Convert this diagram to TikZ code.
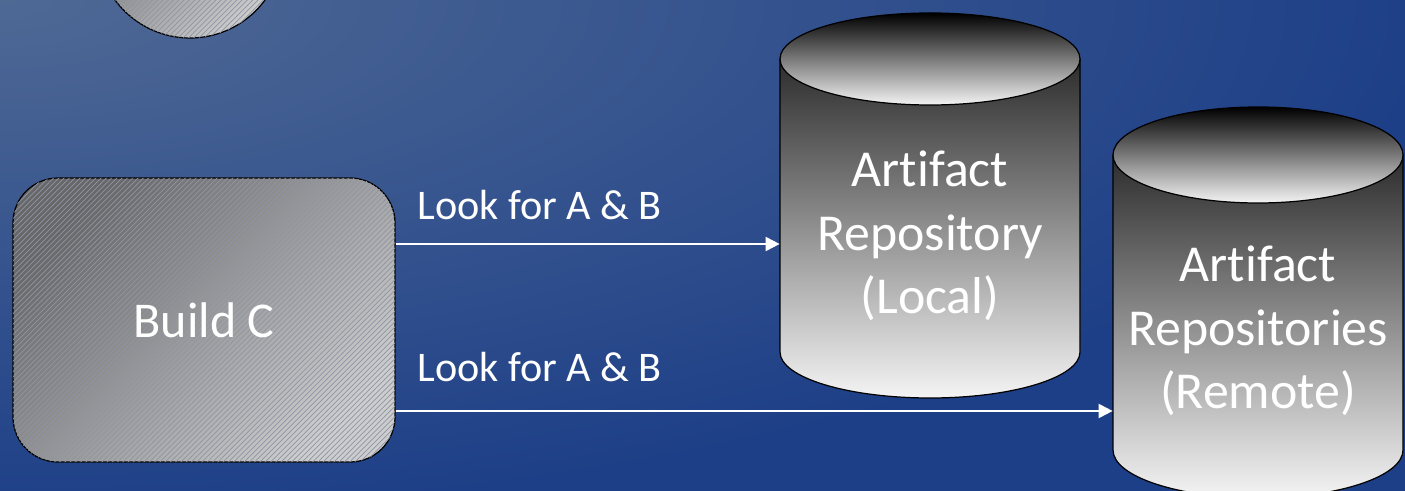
\documentclass[tikz,border=0pt]{standalone}
\usepackage{fontspec}
\setmainfont{Carlito}[Ligatures=NoCommon]
\usetikzlibrary{arrows.meta}
\usetikzlibrary{patterns}
\usetikzlibrary{positioning}
\definecolor{bgLight}{HTML}{4F6995}
\definecolor{bgDark}{HTML}{1D3F87}
\definecolor{boxDark}{HTML}{676767}
\definecolor{boxLight}{HTML}{CDCDCD}
\definecolor{hatch}{HTML}{8E95A6}
\definecolor{cylDark}{HTML}{2C2C2C}
\definecolor{cylLight}{HTML}{F4F4F4}
\pgfdeclareradialshading{bgglow}{\pgfpointorigin}{color(0bp)=(bgLight); color(18bp)=(bgDark); color(50bp)=(bgDark)}
\tikzset{>={Triangle[length=8pt,width=8pt]}}
\tikzset{
  buildbox/.style={draw=black, line width=0.7pt, text=white,
    top color=boxDark, bottom color=boxLight, shading angle=45,
    postaction={pattern=north east lines, pattern color=hatch}},
  repotext/.style={text=white, align=center, inner sep=0pt,
    font=\fontsize{29.5}{36}\selectfont},
  looklabel/.style={text=white, inner sep=0pt, font=\fontsize{24}{29}\selectfont},
  flow/.style={->, draw=white, line width=1.1pt}
}
% cx, top y, bottom y, rx, ry
\newcommand{\drawrepo}[5]{%
  \shade[top color=cylDark, bottom color=cylLight, draw=black, line width=0.7pt]
    (#1-#4,#2) -- (#1-#4,#3) arc[start angle=180, end angle=360, x radius=#4, y radius=#5]
    -- (#1+#4,#2) -- cycle;
  \shade[top color=black, bottom color=cylLight, draw=black, line width=0.7pt]
    (#1,#2) ellipse [x radius=#4, y radius=#5];
}

\begin{document}
\begin{tikzpicture}[x=0.2mm, y=0.2mm]
	\useasboundingbox (0,0) rectangle (1405,490);
	\clip (0,0) rectangle (1405,490);
	% background
	\fill[bgDark] (0,0) rectangle (1405,490);
	\shade[shading=bgglow] (0,490) ellipse [x radius=2000, y radius=720];

	% build steps
	\node[buildbox, circle, minimum size=37.2mm] (buildprev) at (190,545) {};
	\node[buildbox, rounded corners=9mm, minimum width=76.4mm, minimum height=56.8mm,
		font=\fontsize{28.5}{34}\selectfont] (build) at (204,170) {Build C};

	% repositories
	\drawrepo{930}{431}{138}{150}{46}
	\drawrepo{1258}{335}{40}{145}{48}
	\node[repotext, minimum width=60mm] (local) at (930,254) {Artifact\\Repository\\(Local)};
	\node[repotext, minimum width=58mm] (remote) at (1258,159) {Artifact\\Repositories\\(Remote)};

	% lookups
	\path ([yshift=15.2mm]build.east) coordinate (a1);
	\path ([yshift=-18.2mm]build.east) coordinate (a2);
	\draw[flow] (a1) -- (a1 -| local.west);
	\draw[flow] (a2) -- (a2 -| remote.west);
	\node[looklabel, anchor=base west] (look1) at (417,270) {Look for A \& B};
	\node[looklabel, anchor=base west] (look2) at (417,108) {Look for A \& B};
\end{tikzpicture}
\end{document}
